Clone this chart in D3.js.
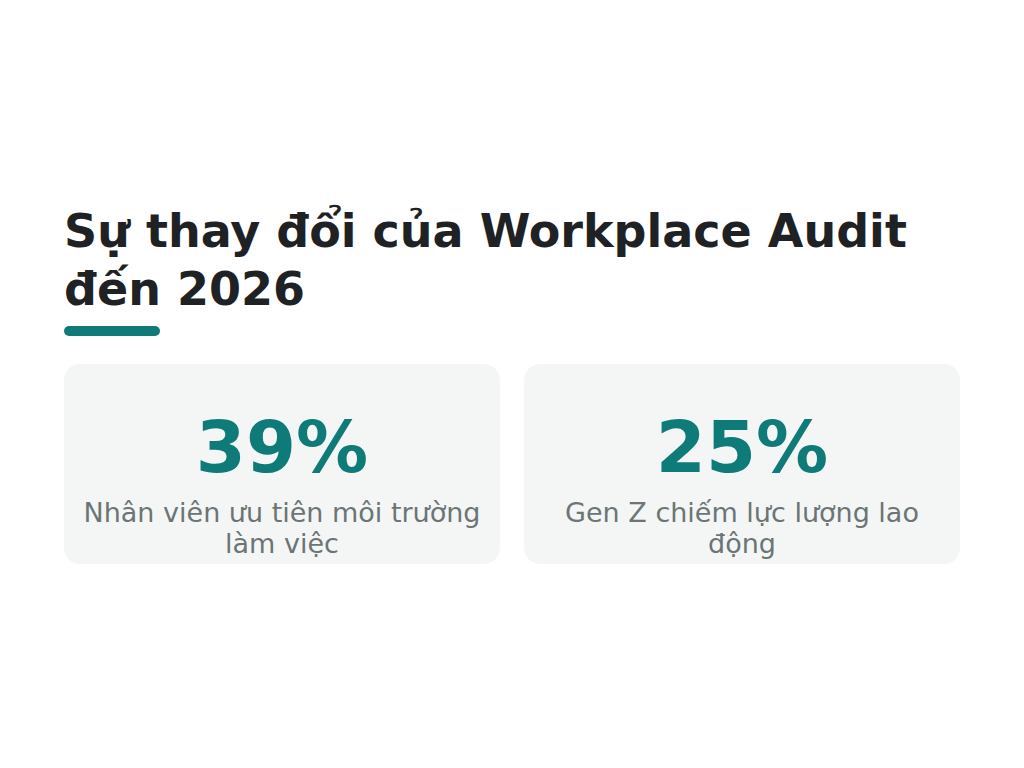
<!DOCTYPE html>
<html>
<head>
<meta charset="utf-8">
<script src="https://cdn.jsdelivr.net/npm/d3@7"></script>
<style>
  html, body { margin: 0; padding: 0; background: #ffffff; }
  svg { display: block; font-family: "DejaVu Sans", sans-serif; }
</style>
</head>
<body>
<div class="holder"></div>
<script>
const title = "Sự thay đổi của Workplace Audit đến 2026";
const statKeys = ["workplace", "genz"];
const statValues = [39, 25];
const statLabels = ["Nhân viên ưu tiên môi trường làm việc", "Gen Z chiếm lực lượng lao động"];

const fullWidth = 1024;
const fullHeight = 768;
const left = 64;
const contentW = 896;
const gap = 24;
const teal = "#0f7b78";

const svg = d3.select(".holder")
   .append("svg")
   .attr("width", fullWidth)
   .attr("height", fullHeight);

// break text into lines no wider than maxW
function wrap(textSel, words, maxW, x, lineH) {
   let line = [];
   let tspan = textSel.append("tspan").attr("x", x).attr("dy", 0);
   words.forEach(w => {
      line.push(w);
      tspan.text(line.join(" "));
      if (tspan.node().getComputedTextLength() > maxW && line.length > 1) {
         line.pop();
         tspan.text(line.join(" "));
         line = [w];
         tspan = textSel.append("tspan").attr("x", x).attr("dy", lineH).text(w);
      }
   });
}

const titleText = svg.append("text")
   .attr("x", left)
   .attr("y", 247)
   .attr("font-size", 46)
   .attr("font-weight", "bold")
   .attr("fill", "#1f2224");
wrap(titleText, title.split(" "), contentW, left, 58);

svg.append("rect")
   .attr("x", left)
   .attr("y", 326)
   .attr("width", 96)
   .attr("height", 10)
   .attr("rx", 5)
   .attr("fill", teal);

// two cards side by side, 24px apart
const pad = 2 * gap / (contentW + gap);
const xScale = d3.scaleBand()
   .domain(statKeys)
   .range([left, left + contentW])
   .paddingInner(pad)
   .paddingOuter(0);
const cardW = xScale.bandwidth();

const cards = svg.selectAll("g.card")
   .data(statKeys)
   .enter()
   .append("g")
   .attr("class", "card")
   .attr("transform", d => "translate(" + xScale(d) + ",364)");

cards.append("rect")
   .attr("width", cardW)
   .attr("height", 200)
   .attr("rx", 16)
   .attr("fill", "#f4f6f6");

cards.append("text")
   .attr("x", cardW / 2)
   .attr("y", 108)
   .attr("text-anchor", "middle")
   .attr("font-size", 72)
   .attr("font-weight", "bold")
   .attr("fill", teal)
   .text((d, i) => statValues[i] + "%");

cards.each(function (d, i) {
   const t = d3.select(this).append("text")
      .attr("x", cardW / 2)
      .attr("y", 158)
      .attr("text-anchor", "middle")
      .attr("font-size", 27)
      .attr("fill", "#6b7575");
   wrap(t, statLabels[i].split(" "), cardW - 32, cardW / 2, 31);
});
</script>
</body>
</html>
